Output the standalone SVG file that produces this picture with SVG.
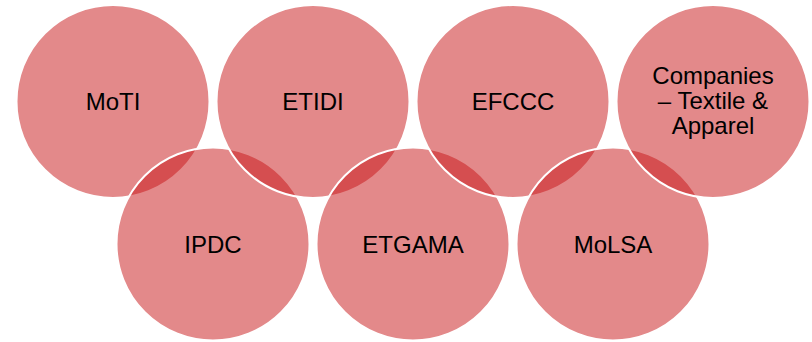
<svg xmlns="http://www.w3.org/2000/svg" width="812" height="342" viewBox="0 0 812 342">
<style>
.c{fill:rgb(200,20,22);fill-opacity:0.5;stroke:#fff;stroke-width:2}
.t{font-family:"Liberation Sans",Arial,sans-serif;font-size:24px;fill:#000;text-anchor:middle}
</style>
<rect width="812" height="342" fill="#fff"/>
<g id="moti"><circle class="c" cx="113" cy="101.5" r="96.5"/><text class="t" x="113" y="109.5">MoTI</text></g>
<g id="ipdc"><circle class="c" cx="213" cy="244" r="96.5"/><text class="t" x="213" y="253">IPDC</text></g>
<g id="etidi"><circle class="c" cx="313" cy="101.5" r="96.5"/><text class="t" x="313" y="109.5">ETIDI</text></g>
<g id="etgama"><circle class="c" cx="413" cy="244" r="96.5"/><text class="t" x="413" y="253">ETGAMA</text></g>
<g id="efccc"><circle class="c" cx="513" cy="101.5" r="96.5"/><text class="t" x="513" y="109.5">EFCCC</text></g>
<g id="molsa"><circle class="c" cx="613" cy="244" r="96.5"/><text class="t" x="613" y="253">MoLSA</text></g>
<g id="companies"><circle class="c" cx="713" cy="101.5" r="96.5"/><text class="t" x="713" y="83.5">Companies</text><text class="t" x="713" y="108.5">– Textile &amp;</text><text class="t" x="713" y="133.5">Apparel</text></g>
<g id="connectors"/>
</svg>
